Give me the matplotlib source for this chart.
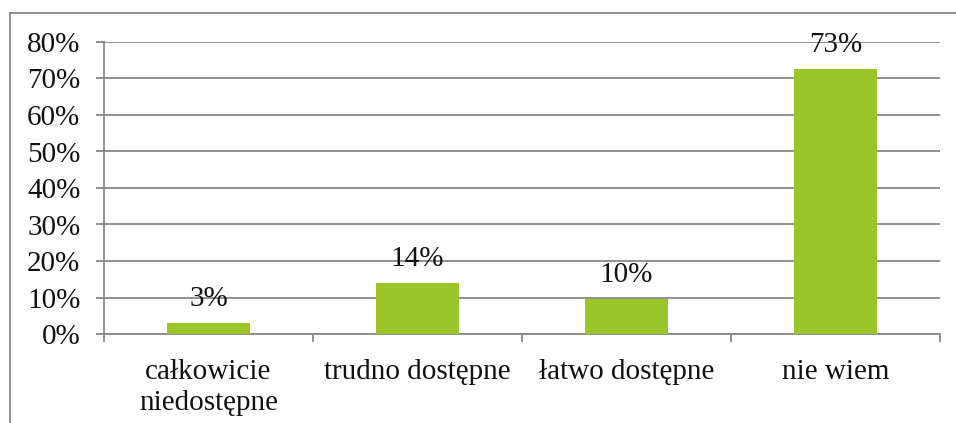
import matplotlib
matplotlib.use("Agg")
import matplotlib.pyplot as plt
from matplotlib.lines import Line2D
from matplotlib.ticker import FixedLocator

categories = ["całkowicie\nniedostępne", "trudno dostępne", "łatwo dostępne", "nie wiem"]
values = [3.1, 14.0, 9.7, 72.6]
yticks = [0, 10, 20, 30, 40, 50, 60, 70, 80]
ytick_labels = [f"{v}%" for v in yticks]

bar_color = "#9AC629"
grid_color = "#888888"
font = ["Liberation Serif", "DejaVu Serif"]
plt.rcParams["font.family"] = font
fs = 21

fig = plt.figure(figsize=(9.56, 4.23), dpi=100)
ax = fig.add_axes([104/956, 1-334/423, (940-104)/956, (334-42)/423])

x = list(range(len(categories)))
ax.bar(x, values, width=0.4, color=bar_color, zorder=3)
for xi, v in zip(x, values):
    ax.annotate(f"{v:.0f}%", (xi, v), xytext=(0, 17), textcoords="offset points",
                ha="center", va="center", fontsize=fs, color="#111111", zorder=4)

ax.set_xlim(-0.5, len(categories) - 0.5)
ax.set_ylim(0, 80)
ax.set_yticks(yticks)
ax.set_yticklabels(ytick_labels, fontsize=fs, color="#111111")
ax.yaxis.grid(True, color=grid_color, linewidth=1.3, zorder=0)

ax.set_xticks(x)
ax.set_xticklabels(categories, fontsize=fs, linespacing=1.25, color="#111111")
ax.xaxis.set_minor_locator(FixedLocator([i - 0.5 for i in range(len(categories) + 1)]))
ax.tick_params(axis="x", which="major", length=0, pad=18)
ax.tick_params(axis="x", which="minor", length=6, width=1.3, color=grid_color)
ax.tick_params(axis="y", length=6, width=1.3, color=grid_color, pad=11)

for s in ["top", "right"]:
    ax.spines[s].set_visible(False)
for s in ["left", "bottom"]:
    ax.spines[s].set_color(grid_color)
    ax.spines[s].set_linewidth(1.3)

# outer chart frame (top and left edges visible)
fig.add_artist(Line2D([10/956, 1.0], [1-13/423, 1-13/423], color=grid_color, linewidth=1.3))
fig.add_artist(Line2D([10/956, 10/956], [0.0, 1-13/423], color=grid_color, linewidth=1.3))

fig.savefig("out.png", dpi=100)
